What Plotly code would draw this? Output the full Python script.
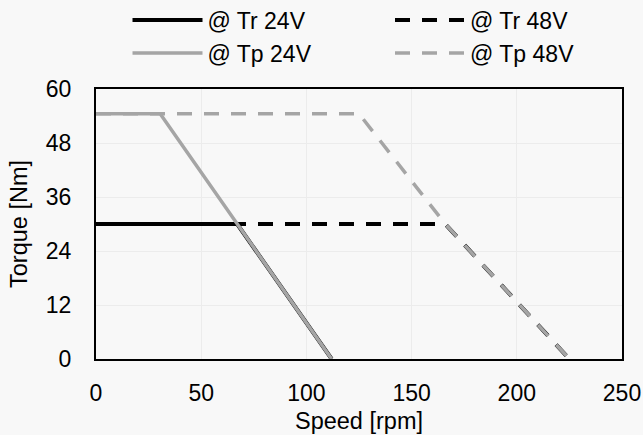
import plotly.graph_objects as go

# Data
tr24_speed = [0, 67.1, 112]
tr24_torque = [30, 30, 0]
tr48_speed = [0, 166, 225]
tr48_torque = [30, 30, 0]
tp24_speed = [0, 30.5, 112]
tp24_torque = [54.5, 54.5, 0]
tp48_speed = [0, 125, 166, 225]
tp48_torque = [54.5, 54.5, 30, 0]

x_ticks = [0, 50, 100, 150, 200, 250]
y_ticks = [0, 12, 24, 36, 48, 60]

BLACK = "#000000"
GRAY = "#a5a5a5"
BG = "#f8f8f8"
FONT = "Liberation Sans, Arial, sans-serif"

fig = go.Figure()
fig.add_trace(go.Scatter(x=tr24_speed, y=tr24_torque, mode="lines", name="@ Tr 24V",
                         line=dict(color=BLACK, width=4), legend="legend", showlegend=True))
fig.add_trace(go.Scatter(x=tr48_speed, y=tr48_torque, mode="lines", name="@ Tr 48V",
                         line=dict(color=BLACK, width=4, dash="15px,12px"), legend="legend2", showlegend=True))
fig.add_trace(go.Scatter(x=tp24_speed, y=tp24_torque, mode="lines", name="@ Tp 24V",
                         line=dict(color=GRAY, width=3.5), legend="legend3", showlegend=True))
fig.add_trace(go.Scatter(x=tp48_speed, y=tp48_torque, mode="lines", name="@ Tp 48V",
                         line=dict(color=GRAY, width=3.5, dash="15px,12px"), legend="legend4", showlegend=True))

legend_common = dict(orientation="h", xanchor="left", yanchor="middle",
                     xref="container", yref="container",
                     font=dict(family=FONT, size=23, color="#000000"),
                     bgcolor="rgba(0,0,0,0)", itemwidth=70,
                     itemclick=False)

col1_x = 127.5 / 643
col2_x = 390 / 643
row1_y = 1 - 20 / 435
row2_y = 1 - 53 / 435

fig.update_layout(
    width=643, height=435,
    showlegend=True,
    margin=dict(l=96, r=21, t=89, b=76, autoexpand=False),
    paper_bgcolor=BG, plot_bgcolor=BG,
    font=dict(family=FONT, size=23, color="#000000"),
    legend=dict(x=col1_x, y=row1_y, **legend_common),
    legend2=dict(x=col2_x, y=row1_y, **legend_common),
    legend3=dict(x=col1_x, y=row2_y, **legend_common),
    legend4=dict(x=col2_x, y=row2_y, **legend_common),
    xaxis=dict(range=[0, 250], tickvals=x_ticks, showgrid=True, gridcolor="#ececec", gridwidth=1,
               showline=True, linecolor=BLACK, linewidth=2, mirror=True, zeroline=False,
               ticks="", tickfont=dict(size=23), ticklabelstandoff=12,
               title=dict(text="Speed [rpm]", font=dict(size=23.5), standoff=8)),
    yaxis=dict(range=[0, 60], tickvals=y_ticks, showgrid=True, gridcolor="#ececec", gridwidth=1,
               showline=True, linecolor=BLACK, linewidth=2, mirror=True, zeroline=False,
               ticks="", tickfont=dict(size=23), ticklabelstandoff=18,
               title=dict(text="Torque [Nm]", font=dict(size=23.5), standoff=12)),
)

fig.write_html("out.html")
